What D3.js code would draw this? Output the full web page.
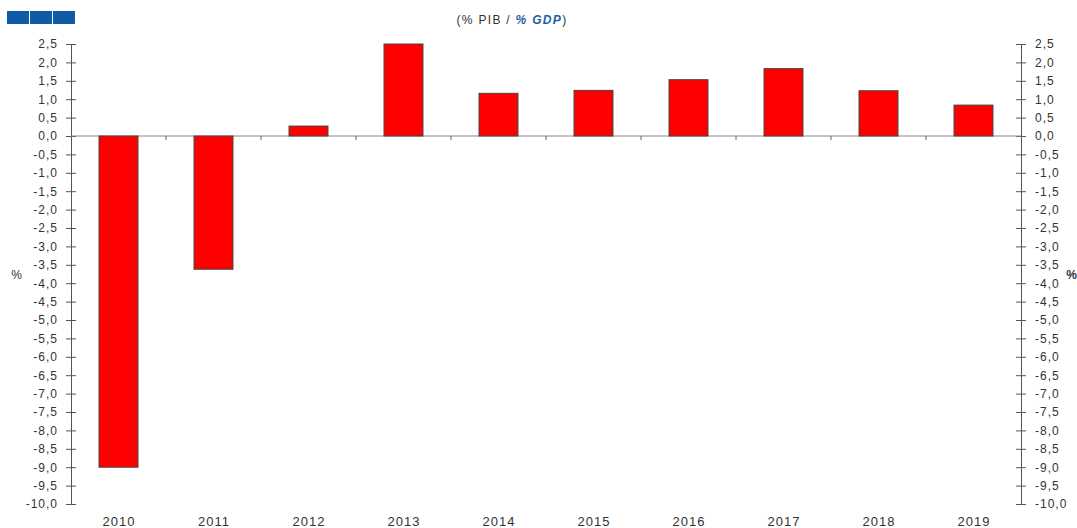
<!DOCTYPE html>
<html lang="en">
<head>
    <meta charset="UTF-8">
    <title>(% PIB / % GDP)</title>
    <script src="https://d3js.org/d3.v7.min.js"></script>
    <style>
        body, html {
            margin: 0;
            padding: 0;
            background: #fff;
            font-family: "Liberation Sans", Arial, sans-serif;
        }
        text {
            letter-spacing: 1px;
        }
        .tick text {
            font-size: 12px;
            fill: #333;
        }
    </style>
</head>
<body>
    <div id="chart"></div>
    <script>
        const years = ["2010", "2011", "2012", "2013", "2014", "2015", "2016", "2017", "2018", "2019"];
        const values = [-9.0, -3.62, 0.27, 2.5, 1.16, 1.24, 1.53, 1.83, 1.23, 0.84];
        const yTicks = d3.range(-10, 2.51, 0.5);

        const W = 1077, H = 528;
        const margin = { top: 44, right: 56, bottom: 24, left: 71 };
        const width = W - margin.left - margin.right,
            height = H - margin.top - margin.bottom;

        const svg = d3.select("#chart").append("svg")
            .attr("width", W)
            .attr("height", H);

        // logo blocks top-left
        [0, 1, 2].forEach(i => {
            svg.append("rect")
                .attr("x", 7 + i * 23)
                .attr("y", 11)
                .attr("width", 22)
                .attr("height", 13)
                .attr("fill", "#0f5ba6");
        });

        // title
        const title = svg.append("text")
            .attr("x", 512)
            .attr("y", 24)
            .attr("text-anchor", "middle")
            .style("font-size", "12px")
            .style("letter-spacing", "1.3px")
            .style("fill", "#333");
        title.append("tspan").text("(% PIB / ");
        title.append("tspan").text("% GDP")
            .style("font-weight", "bold")
            .style("font-style", "italic")
            .style("fill", "#1a5fa5");
        title.append("tspan").text(")");

        const g = svg.append("g")
            .attr("transform", `translate(${margin.left},${margin.top})`);

        const x = d3.scaleBand()
            .domain(years)
            .range([0, width])
            .paddingInner(0.59)
            .paddingOuter(0.295);

        const y = d3.scaleLinear()
            .domain([-10, 2.5])
            .range([height, 0]);

        const fmt = d => d3.format(".1f")(d).replace(".", ",").replace("−", "-");

        // left axis
        const left = g.append("g")
            .call(d3.axisLeft(y).tickValues(yTicks).tickFormat(fmt).tickSizeInner(5).tickSizeOuter(0).tickPadding(8));
        left.selectAll(".tick line").attr("x2", 5).attr("x1", -5);
        left.selectAll("line, path").attr("stroke", "#555");

        // right axis
        const right = g.append("g")
            .attr("transform", `translate(${width},0)`)
            .call(d3.axisRight(y).tickValues(yTicks).tickFormat(fmt).tickSizeInner(5).tickSizeOuter(0).tickPadding(9));
        right.selectAll(".tick line").attr("x1", -5).attr("x2", 5);
        right.selectAll("line, path").attr("stroke", "#555");

        // zero line
        g.append("line")
            .attr("x1", 0).attr("x2", width)
            .attr("y1", y(0)).attr("y2", y(0))
            .attr("stroke", "#888");

        // category separator ticks on zero line
        g.selectAll(".sep")
            .data(years.slice(1))
            .enter().append("line")
            .attr("class", "sep")
            .attr("x1", d => x(d) - x.step() * x.paddingInner() / 2)
            .attr("x2", d => x(d) - x.step() * x.paddingInner() / 2)
            .attr("y1", y(0))
            .attr("y2", y(0) + 4)
            .attr("stroke", "#666");

        // bars
        g.selectAll(".bar")
            .data(years.map((yr, i) => ({ yr, v: values[i] })))
            .enter().append("rect")
            .attr("class", "bar")
            .attr("x", d => x(d.yr))
            .attr("width", x.bandwidth())
            .attr("y", d => y(Math.max(0, d.v)))
            .attr("height", d => Math.abs(y(d.v) - y(0)))
            .attr("fill", "#ff0000")
            .attr("stroke", "#444")
            .attr("stroke-width", 1);

        // year labels
        g.selectAll(".yr")
            .data(years)
            .enter().append("text")
            .attr("class", "yr")
            .attr("x", d => x(d) + x.bandwidth() / 2 + 0.5)
            .attr("y", height + 22)
            .attr("text-anchor", "middle")
            .style("font-size", "13px")
            .style("fill", "#333")
            .text(d => d);

        // % unit labels
        svg.append("text")
            .attr("x", 17).attr("y", 279)
            .attr("text-anchor", "middle")
            .style("font-size", "12px")
            .style("fill", "#333")
            .text("%");
        svg.append("text")
            .attr("x", 1072).attr("y", 279)
            .attr("text-anchor", "middle")
            .style("font-size", "12px")
            .style("font-weight", "bold")
            .style("fill", "#333")
            .text("%");
    </script>
</body>
</html>
